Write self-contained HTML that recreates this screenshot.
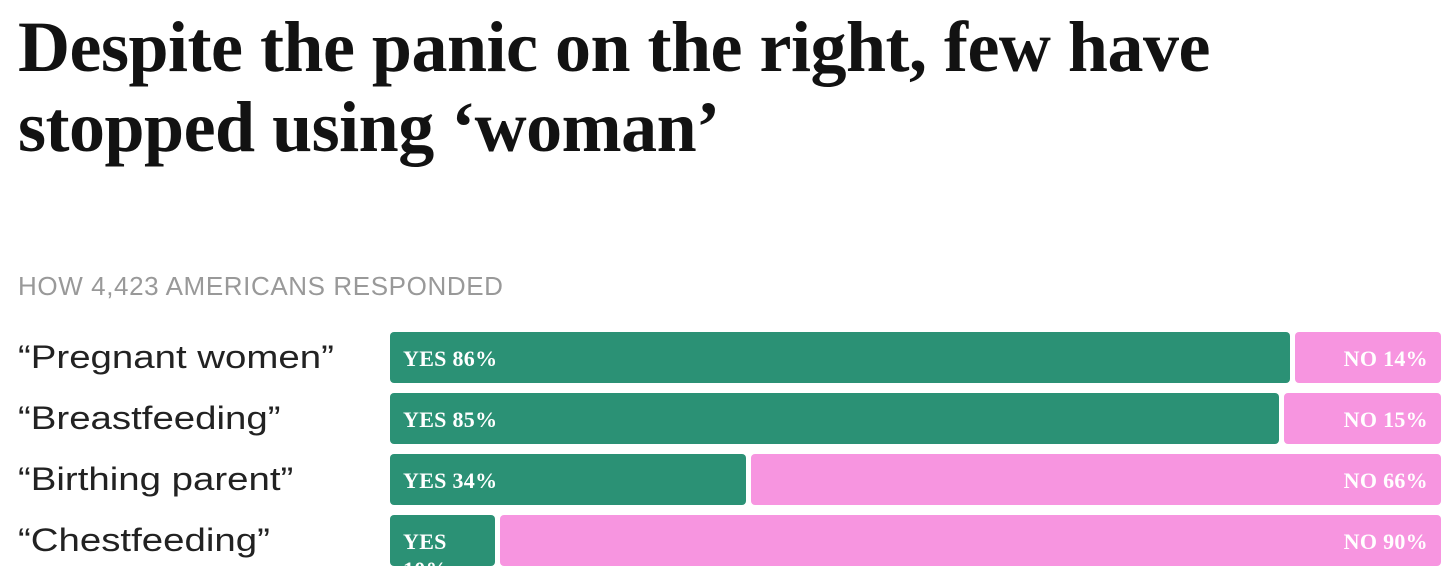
<!DOCTYPE html>
<html><head><meta charset="utf-8"><style>
body{margin:0;width:1456px;height:583px;background:#fff;overflow:hidden;position:relative;font-family:"Liberation Sans",sans-serif}
h1{position:absolute;left:18px;top:7px;margin:0;font-family:"Liberation Serif",serif;font-weight:bold;font-size:72px;line-height:80px;color:#121212;letter-spacing:-0.5px;white-space:nowrap}
.sub{position:absolute;left:18px;top:271px;font-size:26px;color:#999;letter-spacing:0.6px}
.lab{position:absolute;left:18px;font-size:32px;color:#222;line-height:51px;transform:scaleX(1.2);transform-origin:left center;white-space:nowrap}
.bar{position:absolute;height:51px;border-radius:4px;overflow:hidden;color:#fff;font-family:"Liberation Serif",serif;font-weight:bold;font-size:22px;letter-spacing:0.3px;box-sizing:border-box;padding-top:13px;line-height:28px}
.yes{background:#2b9175;padding-left:13px}
.no{background:#f795e0;text-align:right;padding-right:13px}
</style></head><body>
<h1>Despite the panic on the right, few have<br>stopped using ‘woman’</h1>
<div class="sub">HOW 4,423 AMERICANS RESPONDED</div>
<div id="chart"></div>
<script>
const categories=["“Pregnant women”","“Breastfeeding”","“Birthing parent”","“Chestfeeding”"];
const yesValues=[86,85,34,10];
const noValues=[14,15,66,90];
const x0=390,span=1046,gap=5,top0=332,pitch=61;
const sx=v=>v*span/100;
const c=document.getElementById('chart');
categories.forEach((cat,i)=>{
 const y=top0+i*pitch;
 const l=document.createElement('div');
 l.className='lab';l.style.top=y+'px';l.textContent=cat;
 
 
 c.appendChild(l);
 const yw=sx(yesValues[i]);
 const b=document.createElement('div');
 b.className='bar yes';b.style.left=x0+'px';b.style.top=y+'px';b.style.width=yw+'px';
 b.textContent='YES '+yesValues[i]+'%';
 
 
 c.appendChild(b);
 const n=document.createElement('div');
 n.className='bar no';n.style.left=(x0+yw+gap)+'px';n.style.top=y+'px';n.style.width=sx(noValues[i])+'px';
 n.textContent='NO '+noValues[i]+'%';
 
 
 c.appendChild(n);
});
</script>
</body></html>
